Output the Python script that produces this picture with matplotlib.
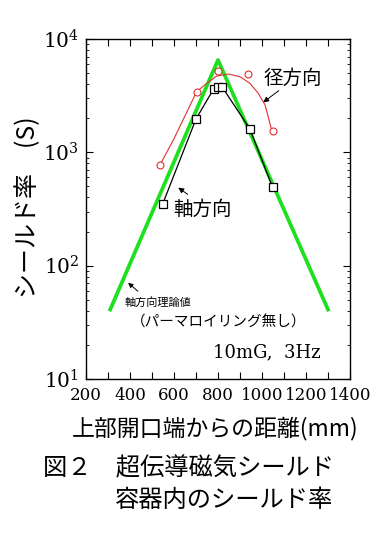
import matplotlib
matplotlib.use("Agg")
import matplotlib.pyplot as plt
from matplotlib.ticker import FixedLocator, LogLocator, NullFormatter, FixedFormatter

plt.rcParams['font.family'] = ['Noto Sans CJK JP', 'DejaVu Sans']
plt.rcParams['mathtext.fontset'] = 'dejavuserif'

# Data
theory_x = [310, 800, 1300]
theory_y = [41, 6530, 41]

axial_x = [548, 700, 780, 800, 818, 945, 1048]
axial_y = [348, 1968, 3620, 3750, 3795, 1607, 491]

radial_x = [538, 703, 801, 938, 1051]
radial_y = [773, 3390, 5250, 4910, 1531]

radial_fit_x = [536, 597, 703, 749, 794, 847, 900, 945, 983, 1014, 1044]
radial_fit_y = [773, 1285, 3430, 4065, 4710, 4910, 4645, 4065, 3320, 2615, 1575]

x_ticks = [200, 300, 400, 500, 600, 700, 800, 900, 1000, 1100, 1200, 1300, 1400]
x_labels = ['200', '', '400', '', '600', '', '800', '', '1000', '', '1200', '', '1400']
y_ticks = [10, 100, 1000, 10000]
y_labels = [r'$10^{1}$', r'$10^{2}$', r'$10^{3}$', r'$10^{4}$']

W, H = 379, 543
fig = plt.figure(figsize=(W / 100, H / 100), dpi=100)
L, R, T, B = 86, 350, 39, 379
ax = fig.add_axes([L / W, 1 - B / H, (R - L) / W, (B - T) / H])

def fp(x, y):
    return (x / W, 1 - y / H)

ax.plot(theory_x, theory_y, color='#1ee01e', lw=2.7, solid_joinstyle='round', zorder=2)
ax.plot(radial_fit_x, radial_fit_y, color='#e03030', lw=0.8, zorder=3)
ax.plot(radial_x, radial_y, ls='none', marker='o', ms=5, mfc='white', mec='#e03030', mew=0.8, zorder=4)
ax.plot(axial_x, axial_y, color='black', lw=0.9, marker='s', ms=5.5, mfc='white', mec='black', mew=0.9, zorder=5)

ax.set_yscale('log')
ax.set_xlim(200, 1400)
ax.set_ylim(10, 10000)
ax.xaxis.set_major_locator(FixedLocator(x_ticks))
ax.xaxis.set_major_formatter(FixedFormatter(x_labels))
ax.yaxis.set_major_locator(FixedLocator(y_ticks))
ax.yaxis.set_major_formatter(FixedFormatter(y_labels))
ax.yaxis.set_minor_locator(LogLocator(base=10, subs=range(2, 10)))
ax.yaxis.set_minor_formatter(NullFormatter())
ax.tick_params(which='both', direction='in', top=True, right=True)
ax.tick_params(which='major', length=5, width=0.8)
ax.tick_params(which='minor', length=2.5, width=0.6)
ax.tick_params(axis='x', labelsize=12, pad=6)
ax.tick_params(axis='y', labelsize=14.5, pad=5)
for lab in ax.get_xticklabels():
    lab.set_family('DejaVu Serif')
for sp in ax.spines.values():
    sp.set_linewidth(1.0)

# annotations
fig.text(*fp(293, 78), '径方向', fontsize=14, ha='center', va='center')
ax.annotate('', xy=fp(261, 104), xytext=fp(281, 89), xycoords='figure fraction', textcoords='figure fraction',
            arrowprops=dict(arrowstyle='-|>', color='black', lw=0.7, mutation_scale=8))
fig.text(*fp(202, 209), '軸方向', fontsize=14, ha='center', va='center')
ax.annotate('', xy=fp(176, 186), xytext=fp(190, 196), xycoords='figure fraction', textcoords='figure fraction',
            arrowprops=dict(arrowstyle='-|>', color='black', lw=0.7, mutation_scale=8))
fig.text(*fp(125, 302), '軸方向理論値', fontsize=8, ha='left', va='center')
fig.text(*fp(131, 323), '（パーマロイリング無し）', fontsize=10.5, ha='left', va='center')
ax.annotate('', xy=fp(126, 281), xytext=fp(140, 293), xycoords='figure fraction', textcoords='figure fraction',
            arrowprops=dict(arrowstyle='-|>', color='black', lw=0.7, mutation_scale=7))
fig.text(*fp(267, 352), '10mG,  3Hz', fontsize=13, ha='center', va='center', family='DejaVu Serif')

# axis labels
fig.text(*fp(28, 207), 'シールド率\u3000(S)', fontsize=18, rotation=90, ha='center', va='center')
fig.text(*fp(72, 429), '上部開口端からの距離(mm)', fontsize=16.5, ha='left', va='center')

# caption
fig.text(*fp(43, 468), '図２\u3000超伝導磁気シールド', fontsize=17.5, ha='left', va='center')
fig.text(*fp(115, 500), '容器内のシールド率', fontsize=17.5, ha='left', va='center')

fig.savefig('out.png', dpi=100)
